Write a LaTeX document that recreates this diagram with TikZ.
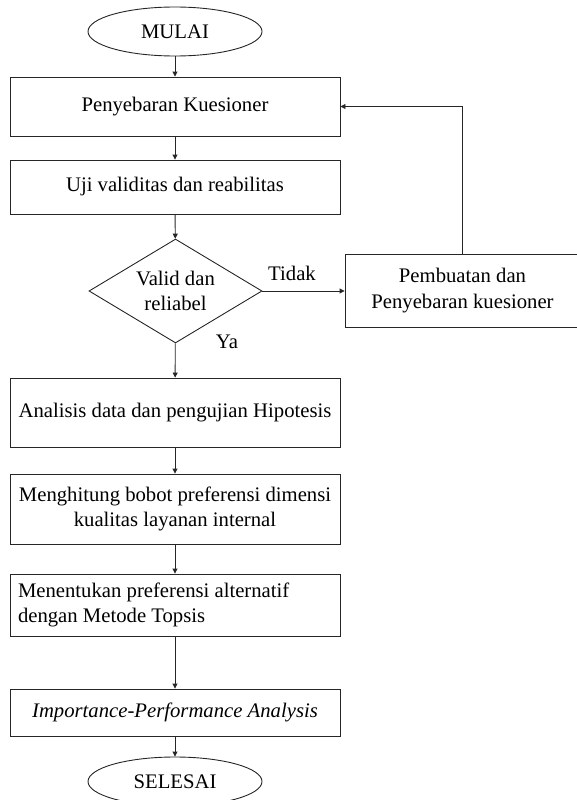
\documentclass[tikz,border=0pt]{standalone}
\usepackage{fontspec}
\setmainfont{Liberation Serif}
\usetikzlibrary{shapes.geometric,arrows.meta}
\begin{document}
\begin{tikzpicture}[x=1pt,y=-1pt,
  every node/.style={font=\fontsize{20.7pt}{25.5pt}\selectfont, text=black},
  base/.style={draw=black!85, line width=0.9pt, inner sep=0pt},
  procbox/.style={base, rectangle, minimum width=330pt, align=flush center},
  term/.style={base, ellipse, minimum width=174pt, minimum height=49pt},
  decide/.style={base, diamond, shape aspect=1.66, minimum width=173pt, minimum height=104pt, align=flush center},
  lbl/.style={inner sep=0pt},
  arr/.style={draw=black!85, line width=0.9pt, -{Triangle[length=5pt,width=5pt]}}
]
\useasboundingbox (0,0) rectangle (577,800);
\node[term] (start) at (175,31.5) {MULAI};
\node[procbox, minimum height=59pt] (b1) at (175,106.5) {Penyebaran Kuesioner};
\node[procbox, minimum height=54pt] (b2) at (175,187) {Uji validitas dan reabilitas};
\node[decide] (dec) at (175.5,291) {Valid dan\\reliabel};
\node[base, rectangle, minimum width=235pt, minimum height=73pt, align=flush center] (pb) at (462.5,290.5) {Pembuatan dan\\Penyebaran kuesioner};
\node[procbox, minimum height=69pt] (b3) at (175,412.5) {Analisis data dan pengujian Hipotesis};
\node[procbox, minimum height=70pt] (b4) at (175,509) {Menghitung bobot preferensi dimensi\\kualitas layanan internal};
\node[base, rectangle, minimum width=330pt, minimum height=62pt, text width=314pt, inner xsep=8pt, align=flush left] (b5) at (175,605) {Menentukan preferensi alternatif\\dengan Metode Topsis};
\node[procbox, minimum height=47pt] (b6) at (175,712.5) {\itshape Importance-Performance Analysis};
\node[term] (end) at (175,781.5) {SELESAI};
\node[lbl] (tidak) at (292,273) {Tidak};
\node[lbl] (ya) at (227,342) {Ya};
\draw[arr] (start) -- (b1);
\draw[arr] (b1) -- (b2);
\draw[arr] (b2) -- (dec);
\draw[arr] (dec.east) -- (pb.west |- dec.east);
\draw[arr] (pb.north) |- (b1.east);
\draw[arr] (dec) -- (b3);
\draw[arr] (b3) -- (b4);
\draw[arr] (b4) -- (b5);
\draw[arr] (b5) -- (b6);
\draw[arr] (b6) -- (end);
\end{tikzpicture}
\end{document}
